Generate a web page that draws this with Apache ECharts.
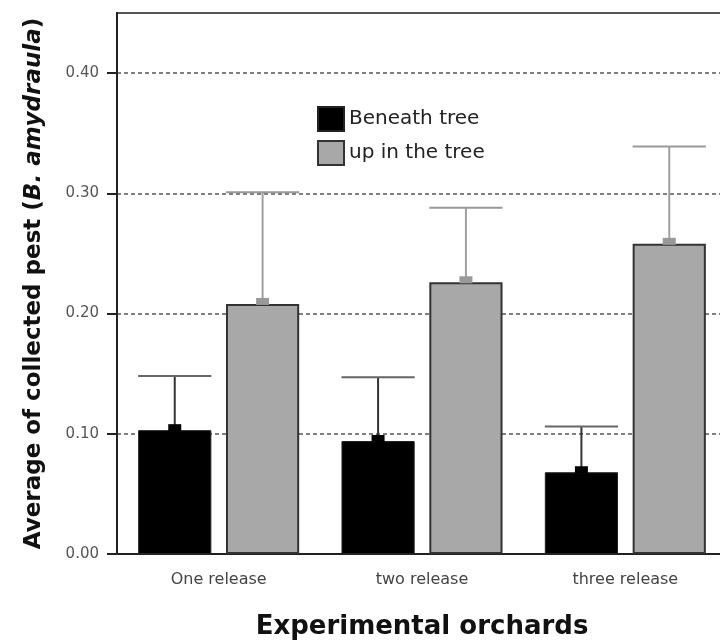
<!DOCTYPE html>
<html>
<head>
<meta charset="utf-8">
<script src="https://cdn.jsdelivr.net/npm/echarts@6/dist/echarts.min.js"></script>
<style>
  html, body { margin: 0; padding: 0; background: #fff; }
  #main { width: 720px; height: 644px; }
</style>
</head>
<body>
<div id="main"></div>
<script>
var categories = ['One release', 'two release', 'three release'];
var beneath = [0.103, 0.094, 0.068];
var beneathErr = [0.148, 0.147, 0.106];
var upTree = [0.208, 0.226, 0.258];
var upTreeErr = [0.301, 0.288, 0.339];
var yTicks = [0, 0.1, 0.2, 0.3, 0.4];

var BAR_W = 0.36, BAR_GAP = 0.2;

// upper error bar with stem, cap and little nub on the bar top
function errorBar(side, stemColor, capColor, nubColor) {
  return function (params, api) {
    var i = api.value(0);
    var top = api.coord([i, api.value(1)]);
    var hi = api.coord([i, api.value(2)]);
    var band = api.size([1, 0])[0];
    var bw = band * BAR_W;
    var cx = top[0] + side * (bw * BAR_GAP / 2 + bw / 2);
    return {
      type: 'group',
      children: [
        { type: 'line', shape: { x1: cx, y1: top[1], x2: cx, y2: hi[1] },
          style: { stroke: stemColor, lineWidth: 2 } },
        { type: 'line', shape: { x1: cx - bw / 2, y1: hi[1], x2: cx + bw / 2, y2: hi[1] },
          style: { stroke: capColor, lineWidth: 2 } },
        { type: 'rect', shape: { x: cx - 6.5, y: top[1] - 6, width: 13, height: 7 },
          style: { fill: nubColor } }
      ]
    };
  };
}

var myChart = echarts.init(document.getElementById('main'));
var option = {
  animation: false,
  backgroundColor: '#fff',
  grid: {
    left: 117, top: 13, right: -7, bottom: 90,
    outerBoundsMode: 'none',
    show: true, borderColor: '#555', borderWidth: 2
  },
  legend: {
    orient: 'vertical',
    left: 317, top: 106,
    padding: 0,
    icon: 'rect',
    itemWidth: 26, itemHeight: 24, itemGap: 8,
    data: ['Beneath tree', 'up in the tree'],
    textStyle: { fontFamily: 'DejaVu Sans', fontSize: 20, color: '#222' }
  },
  xAxis: {
    type: 'category',
    data: categories,
    name: 'Experimental orchards',
    nameLocation: 'middle',
    nameGap: 60,
    nameTextStyle: { fontFamily: 'DejaVu Sans', fontWeight: 'bold', fontSize: 26, color: '#111' },
    axisLine: { lineStyle: { color: '#222', width: 2 } },
    axisTick: { alignWithLabel: true, length: 6, lineStyle: { color: '#111', width: 2 } },
    axisLabel: { fontFamily: 'DejaVu Sans', fontSize: 16, color: '#444', margin: 18 }
  },
  yAxis: {
    type: 'value',
    min: 0, max: 0.45,
    name: 'Average of collected pest ({i|B. amydraula})',
    nameLocation: 'middle',
    nameRotate: 90,
    nameGap: 71,
    nameTextStyle: {
      fontFamily: 'DejaVu Sans', fontWeight: 'bold', fontSize: 23, color: '#111',
      rich: { i: { fontFamily: 'DejaVu Sans', fontWeight: 'bold', fontStyle: 'italic', fontSize: 23, color: '#111' } }
    },
    axisLine: { show: true, lineStyle: { color: '#222', width: 2 } },
    axisTick: { show: true, length: 10, customValues: yTicks, lineStyle: { color: '#222', width: 2 } },
    axisLabel: {
      customValues: yTicks,
      fontFamily: 'DejaVu Sans', fontSize: 15, color: '#555', margin: 18,
      formatter: function (v) { return v.toFixed(2); }
    },
    splitLine: { lineStyle: { color: '#555', type: [4, 3], width: 1.5 } }
  },
  series: [
    {
      name: 'Beneath tree', type: 'bar', data: beneath,
      barWidth: (BAR_W * 100) + '%', barGap: (BAR_GAP * 100) + '%',
      itemStyle: { color: '#000', borderColor: '#222', borderWidth: 1 }
    },
    {
      name: 'up in the tree', type: 'bar', data: upTree,
      barWidth: (BAR_W * 100) + '%',
      itemStyle: { color: '#a8a8a8', borderColor: '#333', borderWidth: 2 }
    },
    {
      type: 'custom', z: 5,
      renderItem: errorBar(-1, '#333', '#666', '#000'),
      encode: { x: 0, y: [1, 2] },
      data: categories.map(function (c, i) { return [i, beneath[i], beneathErr[i]]; })
    },
    {
      type: 'custom', z: 5,
      renderItem: errorBar(1, '#a0a0a0', '#999', '#999'),
      encode: { x: 0, y: [1, 2] },
      data: categories.map(function (c, i) { return [i, upTree[i], upTreeErr[i]]; })
    }
  ]
};
myChart.setOption(option);
</script>
</body>
</html>
